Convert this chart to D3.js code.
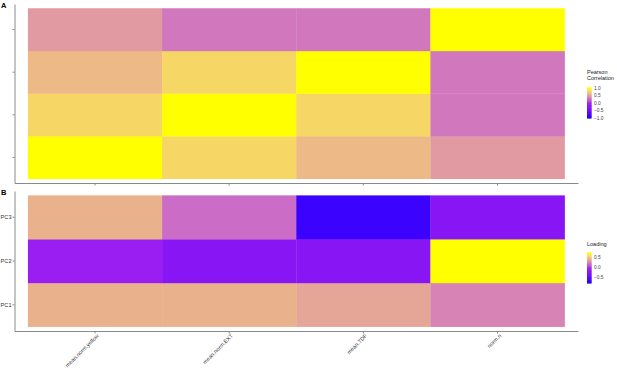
<!DOCTYPE html>
<html>
<head>
<meta charset="utf-8">
<script src="https://cdn.jsdelivr.net/npm/d3@7"></script>
<style>
  body { margin: 0; background: #fff; }
  svg { display: block; font-family: "Liberation Sans", Arial, sans-serif; }
</style>
</head>
<body>
<div id="chart"></div>
<script>
const width = 617, height = 374;

// variables (x order left -> right, y order bottom -> top)
const vars = ["mean.norm.yellow", "mean.norm.EXT", "mean.TDF", "norm.n"];
const pcs = ["PC1", "PC2", "PC3"];

// Pearson correlation matrix, rows follow vars
const corrYellow = [1.00, 0.80, 0.65, 0.50];
const corrEXT    = [0.80, 1.00, 0.80, 0.33];
const corrTDF    = [0.65, 0.80, 1.00, 0.33];
const corrN      = [0.50, 0.33, 0.33, 1.00];
const corrRows = [corrYellow, corrEXT, corrTDF, corrN];

// PCA loadings, rows follow pcs
const loadPC1 = [0.41, 0.41, 0.37, 0.24];
const loadPC2 = [-0.10, -0.25, -0.25, 0.70];
const loadPC3 = [0.41, 0.16, -0.69, -0.25];
const loadRows = [loadPC1, loadPC2, loadPC3];

const corrTicks = [1.0, 0.5, 0.0, -0.5, -1.0];
const loadTicks = [0.5, 0.0, -0.5];

const svg = d3.select("#chart").append("svg")
    .attr("width", width)
    .attr("height", height);

// same palette for both panels: blue -> purple -> yellow, Lab blend
const palette = ["#0000FF", "#A020F0", "#FFFF00"];
const colourA = d3.scaleLinear().domain([-1, 0, 1]).range(palette).interpolate(d3.interpolateLab);
const loadMin = -0.8, loadMax = 0.7;
const colourB = d3.scaleLinear().domain([loadMin, (loadMin + loadMax) / 2, loadMax])
    .range(palette).interpolate(d3.interpolateLab);

const xScale = d3.scaleBand().domain(vars).range([14.5, 578]).paddingOuter(0.1);

const axisCol = "#8a8a8a";

const drawPanel = (rowKeys, rows, yRange, colour, tag, showYLabels, showXLabels) => {
    const yScale = d3.scaleBand().domain(rowKeys).range(yRange).paddingOuter(0.1);
    const g = svg.append("g");

    const cells = [];
    rows.forEach((vals, r) => vals.forEach((v, c) => cells.push({ row: rowKeys[r], col: vars[c], v })));

    g.selectAll("rect.cell")
        .data(cells)
        .join("rect")
        .attr("class", "cell")
        .attr("x", d => xScale(d.col))
        .attr("y", d => yScale(d.row))
        .attr("width", xScale.bandwidth() + 0.3)
        .attr("height", yScale.bandwidth() + 0.3)
        .attr("fill", d => colour(d.v));

    // axes
    const bottom = g.append("g")
        .attr("transform", `translate(0, ${yRange[0]})`)
        .call(d3.axisBottom(xScale).tickSize(2.5).tickSizeOuter(0).tickFormat(showXLabels ? null : ""));
    const left = g.append("g")
        .attr("transform", "translate(14.5, 0)")
        .call(d3.axisLeft(yScale).tickSize(2).tickSizeOuter(0).tickPadding(1).tickFormat(showYLabels ? null : ""));

    [bottom, left].forEach(ax => {
        ax.select(".domain").attr("stroke", axisCol);
        ax.selectAll(".tick line").attr("stroke", axisCol);
        ax.selectAll("text").attr("fill", "#333").style("font-size", "5.6px");
    });

    if (showXLabels) {
        bottom.selectAll("text")
            .attr("text-anchor", "end")
            .attr("transform", "translate(3, 4) rotate(-45)")
            .attr("dy", "0.3em")
            .attr("y", 0)
            .attr("x", 0)
            .style("font-size", "5.5px");
    }

    svg.append("text")
        .text(tag)
        .attr("x", 1)
        .attr("y", yRange[1] + 4)
        .style("font-size", "7.5px")
        .style("font-weight", "bold");
};

drawPanel(vars, corrRows, [183, 4], colourA, "A", false, false);
drawPanel(pcs, loadRows, [331, 191], colourB, "B", true, true);

// colourbar legends
const drawLegend = (titleLines, titleY, barTop, barH, domain, colour, ticks) => {
    const lg = svg.append("g").attr("transform", "translate(587, 0)");
    titleLines.forEach((t, i) => {
        lg.append("text").text(t)
            .attr("x", 0)
            .attr("y", titleY + i * 6)
            .style("font-size", "5.5px")
            .attr("fill", "#222");
    });
    const yL = d3.scaleLinear().domain(domain).range([barTop + barH, barTop]);
    const steps = d3.range(0, 40).map(i => domain[0] + (domain[1] - domain[0]) * i / 39);
    lg.selectAll("rect.step")
        .data(steps)
        .join("rect")
        .attr("class", "step")
        .attr("x", 0)
        .attr("width", 4.5)
        .attr("y", d => yL(d) - barH / 39)
        .attr("height", barH / 39 + 0.6)
        .attr("fill", d => colour(d));
    lg.selectAll("text.tk")
        .data(ticks)
        .join("text")
        .attr("class", "tk")
        .attr("x", 7)
        .attr("y", d => yL(d) + 1.7)
        .style("font-size", "4.8px")
        .attr("fill", "#444")
        .text(d => d3.format(".1f")(d).replace("-", "\u2212"));
};

drawLegend(["Pearson", "Correlation"], 74, 88, 30, [-1, 1], colourA, corrTicks);
drawLegend(["Loading"], 246, 253, 30, [loadMin, loadMax], colourB, loadTicks);
</script>
</body>
</html>
